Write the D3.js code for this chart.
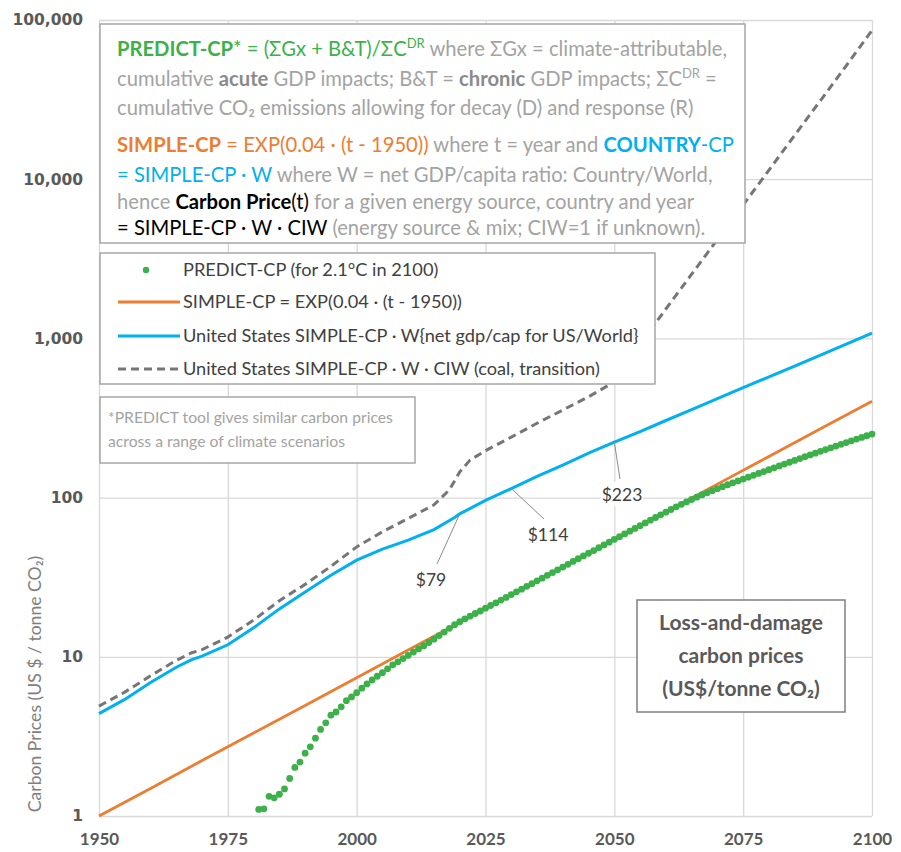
<!DOCTYPE html>
<html lang="en">
<head>
<meta charset="UTF-8">
<title>Loss-and-damage carbon prices</title>
<script src="https://cdn.jsdelivr.net/npm/d3@7"></script>
<style>
  body { margin: 0; background: #fff; }
  text { font-family: Lato, "Open Sans", sans-serif; }
</style>
</head>
<body>
<div id="plot"></div>
<script>
// ---- data ----
var xTicks = [1950, 1975, 2000, 2025, 2050, 2075, 2100];
var yTicks = [1, 10, 100, 1000, 10000, 100000];

// SIMPLE-CP (orange)
var orangeYears = [1950, 1960, 1970, 1980, 1990, 2000, 2010, 2020, 2030, 2040, 2050, 2060, 2070, 2080, 2090, 2100];
var orangeVals = [1, 1.49, 2.23, 3.32, 4.95, 7.39, 11.02, 16.44, 24.53, 36.6, 54.6, 81.45, 121.5, 181.3, 270.4, 403.4];

// United States SIMPLE-CP * W (blue)
var blueYears = [1950, 1955, 1960, 1965, 1968, 1970, 1975, 1980, 1985, 1990, 1995, 2000, 2005, 2010, 2015, 2019, 2020,
  2025, 2030, 2035, 2040, 2045, 2050, 2055, 2060, 2065, 2070, 2075, 2080, 2085, 2090, 2095, 2100];
var blueVals = [4.4, 5.4, 6.9, 8.6, 9.6, 10.1, 11.9, 15.2, 20.0, 25.5, 32.5, 40.5, 47.5, 54, 63, 75, 79,
  96, 114, 136, 160, 190, 223, 260, 305, 357, 418, 490, 573, 670, 785, 920, 1080];

// United States SIMPLE-CP * W * CIW (grey dashed)
var dashYears = [1950, 1955, 1960, 1965, 1968, 1970, 1975, 1980, 1985, 1990, 1995, 2000, 2005, 2010, 2015, 2018, 2020,
  2022, 2025, 2030, 2035, 2040, 2045, 2049, 2055, 2060, 2065, 2070, 2075, 2080, 2085, 2090, 2095, 2100];
var dashVals = [4.9, 6.0, 7.6, 9.5, 10.6, 11.1, 13.3, 17.0, 22.5, 28.5, 37, 49, 61, 74, 90, 112, 145,
  172, 197, 240, 293, 355, 430, 510, 925, 1530, 2530, 4180, 6900, 11400, 18900, 31200, 51600, 86000];

// PREDICT-CP (green dots), one per year from 1981
var greenStart = 1981;
var greenVals = [
  1.10, 1.11, 1.33, 1.30, 1.37, 1.48, 1.72, 2.02, 2.18, 2.48,
  2.72, 3.08, 3.50, 3.85, 4.30, 4.50, 4.85, 5.30, 5.60, 5.95,
  6.35, 6.75, 7.15, 7.55, 7.95, 8.40, 8.90, 9.30, 9.75, 10.2,
  10.7, 11.2, 11.7, 12.3, 12.9, 13.6, 14.3, 15.1, 15.9, 16.6,
  17.3, 18.0, 18.7, 19.4, 20.2, 21.0, 21.8, 22.7, 23.6, 24.6,
  25.6, 26.6, 27.7, 28.8, 30.0, 31.2, 32.5, 33.8, 35.2, 36.6,
  38.1, 39.7, 41.3, 43.0, 44.7, 46.5, 48.4, 50.4, 52.5, 54.6,
  56.8, 59.1, 61.5, 64.0, 66.6, 69.3, 72.1, 75.0, 78.0, 81.0,
  84.2, 87.4, 90.7, 94.0, 97.3, 100.6, 103.9, 107.2, 110.5, 113.8,
  117.1, 120.4, 123.8, 127.2, 130.7, 134.3, 138.0, 141.8, 145.7, 149.7,
  153.8, 158.0, 162.3, 166.7, 171.2, 175.8, 180.5, 185.3, 190.2, 195.2,
  200.3, 205.5, 210.8, 216.2, 221.7, 227.3, 233.0, 238.8, 244.7, 250.7
];

// call-outs on the blue line
var calloutYears = [2020, 2030, 2050];
var calloutLabels = ["$79", "$114", "$223"];

var legendLabels = [
  "PREDICT-CP (for 2.1°C in 2100)",
  "SIMPLE-CP = EXP(0.04 · (t - 1950))",
  "United States SIMPLE-CP · W{net gdp/cap for US/World}",
  "United States SIMPLE-CP · W · CIW (coal, transition)"
];

var noteLines = ["*PREDICT tool gives similar carbon prices", "across a range of climate scenarios"];
var titleLines = ["Loss-and-damage", "carbon prices", "(US$/tonne CO₂)"];

// ---- colours ----
var green = "#3cb14a", orange = "#ed7d31", blue = "#00b0f0", dgrey = "#767676",
    textGrey = "#a3a3a3", axisGrey = "#595959", gridGrey = "#d9d9d9";

// formula box: each line is a list of [text, colour, bold, superscript]
var formulaLines = [
  [["PREDICT-CP", green, 1], ["* = (ΣGx + B&T)/ΣC", green], ["DR", green, 0, 1], [" where ΣGx = climate-attributable,", textGrey]],
  [["cumulative ", textGrey], ["acute", "#8a8a8a", 1], [" GDP impacts; B&T = ", textGrey], ["chronic", "#8a8a8a", 1],
   [" GDP impacts; ΣC", textGrey], ["DR", textGrey, 0, 1], [" =", textGrey]],
  [["cumulative CO₂ emissions allowing for decay (D) and response (R)", textGrey]],
  [["SIMPLE-CP", orange, 1], [" = EXP(0.04 · (t - 1950))", orange], [" where t = year and ", textGrey],
   ["COUNTRY", blue, 1], ["-CP", blue]],
  [["= SIMPLE-CP · W", blue], [" where W = net GDP/capita ratio: Country/World,", textGrey]],
  [["hence ", textGrey], ["Carbon Price", "#000", 1], ["(t)", "#000"], [" for a given energy source, country and year", textGrey]],
  [["= SIMPLE-CP · W · CIW", "#000"], [" (energy source & mix; CIW=1 if unknown).", textGrey]]
];

// ---- chart ----
var width = 901, height = 852;
var margin = {left: 99, right: 29, top: 20, bottom: 36};

var svg = d3.select("#plot").append("svg")
    .attr("width", width)
    .attr("height", height);

var x = d3.scaleLinear().domain([1950, 2100]).range([margin.left, width - margin.right]);
var y = d3.scaleLog().domain([1, 100000]).range([height - margin.bottom, margin.top]);

// gridlines
svg.append("g")
    .attr("transform", "translate(0," + (height - margin.bottom) + ")")
    .call(d3.axisBottom(x).tickValues(xTicks).tickSize(-(height - margin.top - margin.bottom)).tickFormat(""))
    .call(g => g.select(".domain").remove())
    .call(g => g.selectAll("line").attr("stroke", gridGrey).attr("stroke-width", 1.3));

svg.append("g")
    .attr("transform", "translate(" + margin.left + ",0)")
    .call(d3.axisLeft(y).tickValues(yTicks).tickSize(-(width - margin.left - margin.right)).tickFormat(""))
    .call(g => g.select(".domain").remove())
    .call(g => g.selectAll("line").attr("stroke", gridGrey).attr("stroke-width", 1.3));

// tick labels
svg.append("g")
    .attr("transform", "translate(" + (margin.left - 13) + ",0)")
    .call(d3.axisLeft(y).tickValues(yTicks).tickSize(0).tickFormat(d3.format(",")))
    .call(g => g.select(".domain").remove())
    .call(g => g.selectAll("text")
        .attr("fill", axisGrey)
        .style("font-family", "'DejaVu Sans', Verdana, sans-serif")
        .style("font-weight", "bold")
        .style("font-size", "15.5px"));

svg.append("g")
    .attr("transform", "translate(0," + (height - margin.bottom + 14) + ")")
    .call(d3.axisBottom(x).tickValues(xTicks).tickSize(0).tickFormat(d3.format("d")))
    .call(g => g.select(".domain").remove())
    .call(g => g.selectAll("text")
        .attr("fill", axisGrey)
        .style("font-family", "Lato, sans-serif")
        .style("font-weight", "bold")
        .style("font-size", "17px"));

svg.append("text")
    .attr("transform", "translate(41," + (y(1) - 132) + ") rotate(-90)")
    .attr("text-anchor", "middle")
    .attr("fill", "#7f7f7f")
    .style("font-size", "17.6px")
    .text("Carbon Prices (US $ / tonne CO₂)");

// lines
function pairs(xs, ys) { return xs.map((d, i) => [d, ys[i]]); }
var line = d3.line().x(d => x(d[0])).y(d => y(d[1]));

svg.append("path")
    .attr("d", line(pairs(orangeYears, orangeVals)))
    .attr("fill", "none").attr("stroke", orange).attr("stroke-width", 2.8);

svg.append("path")
    .attr("d", line(pairs(blueYears, blueVals)))
    .attr("fill", "none").attr("stroke", blue).attr("stroke-width", 3);

svg.append("path")
    .attr("d", line(pairs(dashYears, dashVals)))
    .attr("fill", "none").attr("stroke", dgrey).attr("stroke-width", 3)
    .attr("stroke-dasharray", "8,5");

svg.append("g").selectAll("circle")
    .data(greenVals)
    .join("circle")
    .attr("cx", (d, i) => x(greenStart + i))
    .attr("cy", d => y(d))
    .attr("r", 3.4)
    .attr("fill", green);

// formula box
var fBox = svg.append("g");
fBox.append("rect")
    .attr("x", 100).attr("y", 24).attr("width", 645).attr("height", 219)
    .attr("fill", "#fff").attr("stroke", "#a6a6a6").attr("stroke-width", 1.5);

var fBase = [56, 86, 115, 152, 182, 209, 235];
formulaLines.forEach(function (segs, li) {
    var t = fBox.append("text")
        .attr("x", 117).attr("y", fBase[li])
        .style("font-size", "20.2px");
    var up = false;
    segs.forEach(function (s) {
        var ts = t.append("tspan").text(s[0]).attr("fill", s[1]);
        if (s[2]) ts.style("font-weight", "bold");
        if (s[3]) { ts.attr("dy", -8).style("font-size", "13px"); up = true; }
        else if (up) { ts.attr("dy", 8); up = false; }
    });
});

// legend
var lg = svg.append("g");
lg.append("rect")
    .attr("x", 100).attr("y", 253).attr("width", 555).attr("height", 131)
    .attr("fill", "#fff").attr("stroke", "#a6a6a6").attr("stroke-width", 1.5);

var legY = [270, 302, 336, 369];
lg.append("circle").attr("cx", 146).attr("cy", legY[0]).attr("r", 3.2).attr("fill", green);
lg.append("line").attr("x1", 118).attr("x2", 180).attr("y1", legY[1]).attr("y2", legY[1])
    .attr("stroke", orange).attr("stroke-width", 2.8);
lg.append("line").attr("x1", 118).attr("x2", 180).attr("y1", legY[2]).attr("y2", legY[2])
    .attr("stroke", blue).attr("stroke-width", 3);
lg.append("line").attr("x1", 118).attr("x2", 180).attr("y1", legY[3]).attr("y2", legY[3])
    .attr("stroke", dgrey).attr("stroke-width", 3).attr("stroke-dasharray", "8,5");

lg.selectAll("text.leg")
    .data(legendLabels)
    .join("text")
    .attr("class", "leg")
    .attr("x", 183)
    .attr("y", (d, i) => legY[i] + 6)
    .attr("fill", "#404040")
    .style("font-size", "18.2px")
    .text(d => d);

// footnote box
var nb = svg.append("g");
nb.append("rect")
    .attr("x", 100).attr("y", 397).attr("width", 315).attr("height", 66)
    .attr("fill", "#fff").attr("stroke", "#a6a6a6").attr("stroke-width", 1.5);
nb.selectAll("text")
    .data(noteLines)
    .join("text")
    .attr("x", 108)
    .attr("y", (d, i) => 423 + i * 24)
    .attr("fill", textGrey)
    .style("font-size", "15.7px")
    .text(d => d);

// call-outs
var labelPos = [[431, 580], [548, 535], [622, 495]];
calloutYears.forEach(function (yr, i) {
    var bi = blueYears.indexOf(yr);
    var px = x(yr), py = y(blueVals[bi]);
    var lp = labelPos[i];
    svg.append("line")
        .attr("x1", px).attr("y1", py)
        .attr("x2", lp[0] + (i == 0 ? 6 : (i == 1 ? -4 : -2))).attr("y2", lp[1] - 16)
        .attr("stroke", "#8c8c8c").attr("stroke-width", 1);
    var tw = calloutLabels[i].length * 9 + 6;
    svg.append("rect")
        .attr("x", lp[0] - tw / 2).attr("y", lp[1] - 13)
        .attr("width", tw).attr("height", 24)
        .attr("fill", "#fff");
    svg.append("text")
        .attr("x", lp[0]).attr("y", lp[1] + 6)
        .attr("text-anchor", "middle")
        .attr("fill", "#404040")
        .style("font-size", "17.5px")
        .text(calloutLabels[i]);
});

// title box
var tb = svg.append("g");
tb.append("rect")
    .attr("x", 637).attr("y", 600).attr("width", 208).attr("height", 112)
    .attr("fill", "#fff").attr("stroke", "#7f7f7f").attr("stroke-width", 1.5);
tb.selectAll("text")
    .data(titleLines)
    .join("text")
    .attr("x", 741)
    .attr("y", (d, i) => 630 + i * 33)
    .attr("text-anchor", "middle")
    .attr("fill", axisGrey)
    .style("font-size", "21px")
    .style("font-weight", "bold")
    .text(d => d);
</script>
</body>
</html>
